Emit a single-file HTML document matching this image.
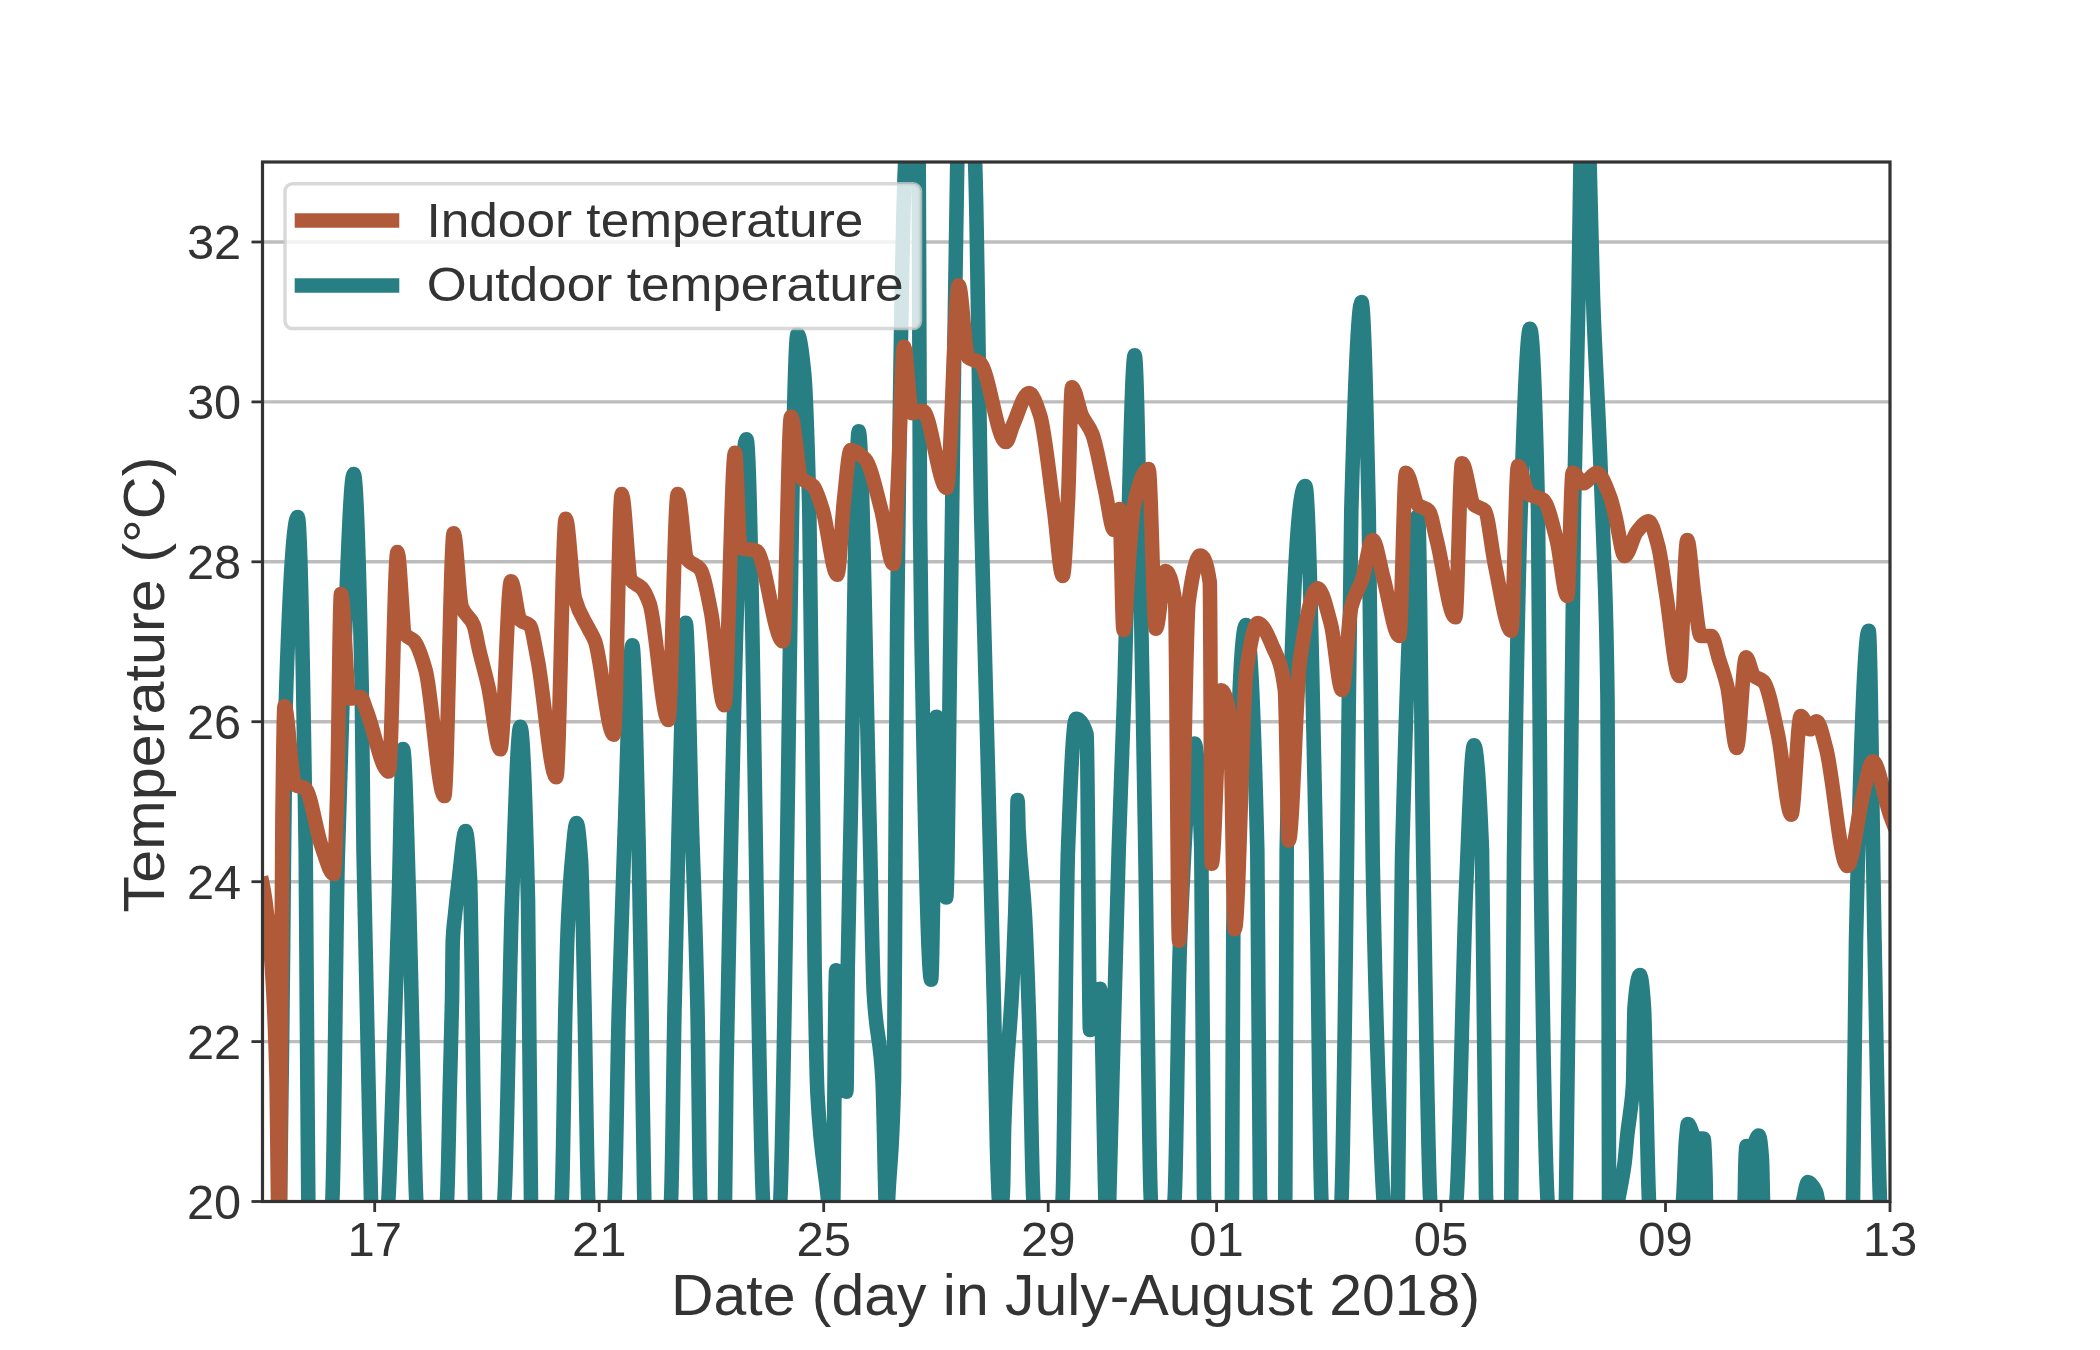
<!DOCTYPE html><html><head><meta charset="utf-8"><style>html,body{margin:0;padding:0;background:#fff;width:2100px;height:1350px;overflow:hidden}svg{display:block}text{font-family:"Liberation Sans",sans-serif;fill:#333333}</style></head><body>
<svg width="2100" height="1350" viewBox="0 0 2100 1350">
<rect width="2100" height="1350" fill="#fff"/>
<defs><clipPath id="ax"><rect x="262.5" y="162.0" width="1627.5" height="1039.5"/></clipPath></defs>
<g stroke="#bdbdbd" stroke-width="3.4"><line x1="262.5" x2="1890.0" y1="1041.6" y2="1041.6"/><line x1="262.5" x2="1890.0" y1="881.7" y2="881.7"/><line x1="262.5" x2="1890.0" y1="721.7" y2="721.7"/><line x1="262.5" x2="1890.0" y1="561.8" y2="561.8"/><line x1="262.5" x2="1890.0" y1="401.9" y2="401.9"/><line x1="262.5" x2="1890.0" y1="242.0" y2="242.0"/></g>
<g clip-path="url(#ax)" fill="none" stroke-width="14.6" stroke-linejoin="round" stroke-linecap="square">
<path d="M262.0 1500.0C266.7 1471.3 271.3 1389.0 276.0 1300.0C277.3 1274.6 278.7 1252.8 280.0 1201.0C281.0 1162.2 282.0 1046.9 283.0 960.0C283.9 881.8 284.8 733.5 285.7 705.0C289.7 578.4 293.7 517.0 297.7 517.0C300.4 517.0 303.0 663.6 305.7 850.0C306.6 910.6 307.4 1171.2 308.3 1201.0C310.8 1288.6 313.4 1330.0 315.9 1330.0C321.4 1330.0 326.8 1288.9 332.3 1201.0C334.1 1172.0 335.9 937.5 337.7 860.0C339.5 784.0 341.2 731.6 343.0 686.7C346.6 596.0 350.1 474.0 353.7 474.0C356.4 474.0 359.0 562.7 361.7 686.7C362.3 714.6 362.9 810.4 363.5 850.0C366.0 1015.1 368.5 1131.5 371.0 1201.0C373.1 1260.6 375.3 1330.0 377.4 1330.0C381.1 1330.0 384.7 1263.0 388.3 1201.0C390.6 1161.6 392.9 1077.9 395.2 1010.0C396.3 976.5 397.5 941.4 398.6 904.0C400.1 855.6 401.5 749.0 403.0 749.0C405.1 749.0 407.1 837.8 409.2 904.0C410.1 931.8 410.9 974.0 411.8 1010.0C413.3 1072.3 414.8 1176.6 416.3 1201.0C421.3 1282.1 426.3 1330.0 431.3 1330.0C436.5 1330.0 441.8 1285.1 447.0 1201.0C448.0 1185.0 449.0 1120.2 450.0 1080.0C450.7 1053.2 451.3 1036.4 452.0 1000.0C452.3 985.5 452.5 945.9 452.8 940.0C453.5 923.7 454.3 922.6 455.0 915.0C456.3 901.3 457.7 888.8 459.0 878.0C461.2 860.1 463.4 831.0 465.6 831.0C467.1 831.0 468.5 849.6 470.0 878.0C470.7 892.2 471.5 954.3 472.2 1000.0C473.1 1058.1 474.1 1178.1 475.0 1201.0C478.4 1285.6 481.9 1330.0 485.3 1330.0C491.7 1330.0 498.0 1282.3 504.3 1201.0C506.9 1168.0 509.4 970.1 512.0 900.0C514.8 824.4 517.5 726.7 520.3 726.7C522.9 726.7 525.4 796.0 528.0 900.0C529.0 940.5 530.0 1175.3 531.0 1201.0C534.5 1290.4 537.9 1330.0 541.4 1330.0C548.2 1330.0 554.9 1293.9 561.7 1201.0C563.0 1183.1 564.3 1050.9 565.6 1000.0C566.4 968.7 567.2 939.3 568.0 922.0C569.3 893.2 570.7 874.4 572.0 860.0C573.5 843.8 575.0 823.0 576.5 823.0C578.0 823.0 579.5 838.8 581.0 860.0C582.1 876.0 583.3 948.2 584.4 1000.0C585.7 1059.4 587.0 1175.5 588.3 1201.0C592.4 1281.7 596.5 1330.0 600.6 1330.0C605.3 1330.0 609.9 1282.1 614.6 1201.0C616.0 1176.6 617.4 1061.4 618.8 1010.0C620.6 942.6 622.5 893.3 624.3 843.0C627.0 769.9 629.6 645.3 632.3 645.3C634.4 645.3 636.5 754.5 638.6 843.0C639.6 883.7 640.5 949.6 641.5 1010.0C642.4 1068.3 643.4 1180.4 644.3 1201.0C648.3 1288.2 652.2 1330.0 656.2 1330.0C661.1 1330.0 666.1 1288.2 671.0 1201.0C672.2 1180.4 673.3 1066.9 674.5 1010.0C675.9 940.2 677.4 872.7 678.8 822.0C681.1 740.7 683.4 622.7 685.7 622.7C687.7 622.7 689.8 755.2 691.8 822.0C693.7 884.4 695.6 922.0 697.5 1010.0C698.4 1053.2 699.4 1182.6 700.3 1201.0C704.9 1292.0 709.5 1330.0 714.2 1330.0C717.8 1330.0 721.4 1294.6 725.0 1201.0C725.5 1188.0 726.0 1096.8 726.5 1070.0C733.2 713.0 739.8 439.3 746.5 439.3C752.0 439.3 757.5 1086.9 763.0 1201.0C766.0 1263.5 769.0 1330.0 772.0 1330.0C774.8 1330.0 777.5 1262.9 780.3 1201.0C786.0 1072.3 791.8 334.0 797.5 334.0C799.7 334.0 801.8 350.5 804.0 371.3C805.8 388.3 807.5 438.0 809.3 510.0C810.6 561.7 811.8 706.7 813.1 820.0C813.6 864.7 814.1 932.7 814.6 964.5C815.6 1026.1 816.5 1076.7 817.5 1094.6C820.9 1157.0 824.2 1162.0 827.6 1195.7C829.3 1212.9 831.0 1247.3 832.8 1247.3C833.0 1247.3 833.2 1212.9 833.4 1195.7C834.3 1120.6 835.3 970.3 836.2 970.3C839.6 970.3 843.0 1091.7 846.4 1091.7C846.9 1091.7 847.3 995.6 847.8 964.5C848.8 900.1 849.7 867.7 850.7 820.0C853.4 688.5 856.0 431.3 858.7 431.3C862.3 431.3 865.9 681.9 869.5 820.0C870.9 875.0 872.4 968.8 873.8 993.4C876.7 1043.1 879.6 1028.7 882.5 1080.0C883.5 1097.1 884.4 1157.1 885.4 1195.7C885.7 1208.7 886.1 1234.7 886.4 1234.7C887.0 1234.7 887.7 1208.7 888.3 1195.7C890.2 1157.1 892.1 1160.1 894.0 1080.0C894.5 1058.9 895.0 922.1 895.5 849.0C896.0 775.9 896.5 685.2 897.0 640.0C899.8 390.0 902.5 212.2 905.3 160.0C909.0 90.3 912.7 40.0 916.4 40.0C917.2 40.0 917.9 88.0 918.7 160.0C919.1 200.4 919.6 465.5 920.0 520.0C920.5 582.9 921.0 612.9 921.5 640.0C924.7 813.3 927.9 979.7 931.1 979.7C932.9 979.7 934.8 716.7 936.6 716.7C939.8 716.7 943.0 897.5 946.2 897.5C947.6 897.5 948.9 731.6 950.3 640.0C950.9 602.0 951.4 559.4 952.0 520.0C953.8 397.3 955.5 205.0 957.3 160.0C960.0 91.3 962.7 40.0 965.4 40.0C968.6 40.0 971.8 91.3 975.0 160.0C977.1 205.0 979.2 427.0 981.3 520.0C982.4 567.2 983.4 599.5 984.5 640.0C987.7 761.4 990.9 870.0 994.1 1010.0C995.1 1052.3 996.0 1118.3 997.0 1150.0C997.7 1171.8 998.3 1192.1 999.0 1201.0C999.5 1207.7 1000.0 1215.0 1000.5 1215.0C1001.3 1215.0 1002.2 1205.3 1003.0 1190.0C1003.4 1182.7 1003.8 1137.5 1004.2 1125.4C1007.0 1040.0 1009.9 1042.1 1012.7 977.7C1014.1 945.9 1015.5 917.3 1016.9 851.0C1017.1 840.0 1017.4 800.0 1017.6 800.0C1017.9 800.0 1018.3 823.2 1018.6 830.0C1020.7 872.7 1022.8 876.6 1024.9 914.0C1026.3 938.9 1027.7 975.9 1029.1 1020.0C1030.5 1065.2 1032.0 1180.3 1033.4 1201.0C1039.3 1286.7 1045.3 1330.0 1051.2 1330.0C1055.0 1330.0 1058.9 1279.3 1062.7 1196.7C1064.5 1158.7 1066.2 898.3 1068.0 850.0C1070.7 777.1 1073.3 718.7 1076.0 718.7C1079.6 718.7 1083.1 722.1 1086.7 734.7C1087.8 738.6 1088.9 1030.0 1090.0 1030.0C1093.3 1030.0 1096.7 988.7 1100.0 988.7C1101.8 988.7 1103.5 1127.4 1105.3 1196.7C1105.9 1222.1 1106.6 1272.8 1107.2 1272.8C1107.9 1272.8 1108.6 1222.1 1109.3 1196.7C1112.4 1081.1 1115.6 949.1 1118.7 850.0C1120.5 794.1 1122.2 752.8 1124.0 700.0C1127.6 593.3 1131.1 355.3 1134.7 355.3C1137.4 355.3 1140.0 565.1 1142.7 700.0C1143.6 743.8 1144.4 797.7 1145.3 850.0C1147.1 958.7 1148.9 1154.9 1150.7 1196.7C1154.1 1276.0 1157.5 1330.0 1161.0 1330.0C1165.5 1330.0 1170.1 1278.6 1174.7 1196.7C1176.5 1165.1 1178.2 984.3 1180.0 943.0C1184.8 830.0 1189.7 743.5 1194.5 743.5C1196.8 743.5 1199.0 778.7 1201.3 850.0C1202.2 878.3 1203.1 1180.0 1204.0 1196.7C1209.7 1303.5 1215.5 1330.0 1221.2 1330.0C1224.8 1330.0 1228.4 1305.8 1232.0 1196.7C1232.4 1183.5 1232.9 953.7 1233.3 930.0C1237.5 698.3 1241.8 625.0 1246.0 625.0C1249.8 625.0 1253.5 697.3 1257.3 850.0C1258.2 886.5 1259.1 1179.5 1260.0 1196.7C1265.6 1302.9 1271.1 1330.0 1276.7 1330.0C1279.5 1330.0 1282.4 1302.9 1285.3 1196.7C1285.8 1179.5 1286.2 872.4 1286.7 850.0C1292.9 552.3 1299.1 486.0 1305.3 486.0C1308.9 486.0 1312.4 684.5 1316.0 850.0C1317.8 932.0 1319.5 1154.3 1321.3 1196.7C1324.6 1275.6 1327.9 1330.0 1331.2 1330.0C1334.6 1330.0 1338.1 1277.8 1341.5 1201.0C1343.3 1160.1 1345.2 989.8 1347.0 860.0C1348.4 758.6 1349.9 560.9 1351.3 510.0C1354.7 389.3 1358.1 302.0 1361.5 302.0C1363.9 302.0 1366.3 400.5 1368.7 510.0C1370.0 570.8 1371.4 786.3 1372.7 860.0C1374.5 957.7 1376.2 1015.8 1378.0 1068.7C1379.8 1121.6 1381.5 1167.7 1383.3 1196.7C1387.1 1259.3 1390.9 1330.0 1394.7 1330.0C1395.8 1330.0 1396.9 1255.9 1398.0 1196.7C1399.3 1124.4 1400.7 911.8 1402.0 860.0C1407.3 652.7 1412.7 516.0 1418.0 516.0C1419.8 516.0 1421.5 759.4 1423.3 860.0C1425.5 987.1 1427.8 1149.6 1430.0 1196.7C1433.5 1271.1 1437.1 1330.0 1440.6 1330.0C1446.0 1330.0 1451.3 1271.8 1456.7 1196.7C1459.8 1153.4 1462.9 961.9 1466.0 890.0C1468.7 828.2 1471.3 745.3 1474.0 745.3C1476.7 745.3 1479.3 783.9 1482.0 850.0C1483.3 883.0 1484.7 1171.1 1486.0 1196.7C1491.0 1292.2 1496.0 1330.0 1500.9 1330.0C1504.4 1330.0 1507.8 1292.5 1511.3 1196.7C1512.2 1171.8 1513.1 930.4 1514.0 860.0C1516.2 685.4 1518.5 575.0 1520.7 510.0C1523.8 419.7 1526.9 328.7 1530.0 328.7C1532.7 328.7 1535.3 393.6 1538.0 510.0C1538.9 549.3 1539.8 789.8 1540.7 860.0C1542.9 1031.5 1545.1 1153.0 1547.3 1196.7C1551.2 1273.8 1555.1 1330.0 1558.9 1330.0C1561.3 1330.0 1563.6 1273.8 1566.0 1196.7C1567.3 1153.0 1568.7 974.4 1570.0 860.0C1571.3 745.6 1572.7 592.4 1574.0 510.0C1575.5 417.3 1577.0 383.0 1578.5 297.0C1579.2 258.8 1579.8 187.1 1580.5 160.0C1582.0 99.0 1583.5 40.0 1585.0 40.0C1586.5 40.0 1588.0 112.0 1589.5 160.0C1590.7 197.3 1591.8 263.2 1593.0 297.0C1595.0 355.0 1597.0 382.6 1599.0 430.0C1600.7 469.5 1602.3 504.1 1604.0 557.0C1605.2 594.1 1606.3 606.2 1607.5 700.0C1607.8 726.8 1608.2 825.7 1608.5 940.0C1608.7 997.2 1608.8 1114.0 1609.0 1201.0C1609.0 1218.3 1609.1 1252.8 1609.1 1252.8C1612.1 1252.8 1615.0 1218.3 1618.0 1201.0C1620.2 1188.0 1622.5 1179.3 1624.7 1162.0C1625.6 1154.8 1626.6 1141.2 1627.5 1133.0C1628.3 1125.7 1629.2 1121.1 1630.0 1114.0C1631.0 1105.5 1632.0 1102.6 1633.0 1085.0C1633.5 1076.2 1634.0 1014.3 1634.5 1008.0C1636.3 984.8 1638.2 975.0 1640.0 975.0C1641.3 975.0 1642.7 988.5 1644.0 1008.0C1644.7 1017.8 1645.3 1059.3 1646.0 1085.0C1647.0 1123.6 1648.0 1181.7 1649.0 1201.0C1652.9 1276.2 1656.8 1330.0 1660.7 1330.0C1668.1 1330.0 1675.6 1279.0 1683.0 1201.0C1684.0 1190.5 1685.0 1151.2 1686.0 1140.0C1686.7 1132.6 1687.3 1124.0 1688.0 1124.0C1690.3 1124.0 1692.7 1137.7 1695.0 1138.0C1697.9 1138.4 1700.7 1138.1 1703.6 1138.6C1704.2 1138.7 1704.9 1155.5 1705.5 1175.0C1705.7 1180.1 1705.8 1198.2 1706.0 1201.0C1712.0 1300.3 1718.0 1330.0 1724.0 1330.0C1730.9 1330.0 1737.7 1299.4 1744.6 1201.0C1744.9 1196.7 1745.2 1166.5 1745.5 1160.0C1745.8 1152.8 1746.2 1146.0 1746.5 1146.0C1748.3 1146.0 1750.2 1147.0 1752.0 1147.0C1754.2 1147.0 1756.5 1135.5 1758.7 1135.5C1759.8 1135.5 1760.9 1144.2 1762.0 1160.0C1762.3 1164.8 1762.7 1187.8 1763.0 1201.0C1764.1 1245.9 1765.3 1330.0 1766.4 1330.0C1778.6 1330.0 1790.8 1246.1 1803.0 1201.0C1804.7 1194.8 1806.3 1182.0 1808.0 1182.0C1810.7 1182.0 1813.3 1186.1 1816.0 1192.0C1816.7 1193.5 1817.3 1198.2 1818.0 1201.0C1829.1 1248.2 1840.2 1330.0 1851.3 1330.0C1851.9 1330.0 1852.4 1246.9 1853.0 1201.0C1854.0 1121.0 1855.0 983.0 1856.0 940.0C1860.2 757.8 1864.5 630.7 1868.7 630.7C1870.6 630.7 1872.6 843.0 1874.5 940.0C1876.3 1032.0 1878.2 1157.2 1880.0 1201.0C1883.3 1280.6 1886.7 1350.0 1890.0 1350.0" stroke="#277f83"/>
<path d="M1695.0 1150.0 L1695.0 1215.0" stroke="#277f83"/>
<path d="M1753.0 1155.0 L1754.0 1215.0" stroke="#277f83"/>
<path d="M262.5 884.0C263.5 888.7 264.5 894.8 265.5 902.0C267.3 915.3 269.2 930.4 271.0 955.0C272.9 980.1 274.7 1004.9 276.6 1080.0C277.1 1098.8 277.5 1176.4 278.0 1201.0C278.3 1218.5 278.7 1240.0 279.0 1240.0C279.3 1240.0 279.7 1220.3 280.0 1201.0C280.8 1154.8 281.6 883.9 282.4 820.0C283.1 764.1 283.8 706.3 284.5 706.3C288.0 706.3 291.5 783.0 295.0 785.0C298.3 786.9 301.7 786.3 305.0 788.0C310.6 790.9 316.1 831.5 321.7 846.7C325.7 857.6 329.7 874.0 333.7 874.0C334.8 874.0 335.9 833.9 337.0 800.0C338.3 758.9 339.7 594.0 341.0 594.0C343.8 594.0 346.7 698.5 349.5 698.5C353.2 698.5 356.8 697.0 360.5 697.0C362.4 697.0 364.4 705.2 366.3 709.9C373.8 727.9 381.3 771.5 388.8 771.5C391.7 771.5 394.5 552.0 397.4 552.0C399.9 552.0 402.5 630.2 405.0 634.0C408.1 638.7 411.2 637.6 414.3 641.3C418.1 645.8 421.9 657.0 425.7 670.7C431.9 693.0 438.1 796.0 444.3 796.0C447.4 796.0 450.6 533.3 453.7 533.3C456.4 533.3 459.0 599.3 461.7 606.7C465.7 617.8 469.7 615.4 473.7 625.3C475.5 629.7 477.2 641.7 479.0 649.3C482.1 662.6 485.2 672.7 488.3 686.7C492.3 704.8 496.3 749.3 500.3 749.3C503.9 749.3 507.4 581.3 511.0 581.3C514.1 581.3 517.2 616.9 520.3 620.0C523.4 623.1 526.6 622.1 529.7 625.3C532.4 628.0 535.0 646.6 537.7 660.0C543.9 691.1 550.1 777.3 556.3 777.3C559.4 777.3 562.6 518.7 565.7 518.7C568.8 518.7 571.9 587.4 575.0 598.7C579.4 614.8 583.9 618.8 588.3 628.0C590.5 632.6 592.8 635.4 595.0 641.3C601.2 657.9 607.5 734.7 613.7 734.7C616.4 734.7 619.0 494.0 621.7 494.0C624.8 494.0 627.9 575.6 631.0 580.0C634.6 585.0 638.1 584.0 641.7 588.0C644.4 591.0 647.0 596.4 649.7 604.0C655.9 621.6 662.1 720.0 668.3 720.0C671.4 720.0 674.6 494.0 677.7 494.0C680.8 494.0 683.9 554.0 687.0 558.7C691.4 565.4 695.9 563.3 700.3 569.3C703.9 574.2 707.4 594.0 711.0 612.0C715.4 634.3 719.9 705.3 724.3 705.3C727.9 705.3 731.4 452.7 735.0 452.7C736.8 452.7 738.5 547.3 740.3 548.0C745.6 550.1 751.0 549.1 756.3 550.7C765.2 553.4 774.1 641.3 783.0 641.3C785.7 641.3 788.3 416.7 791.0 416.7C794.4 416.7 797.9 473.8 801.3 478.0C805.3 482.9 809.3 481.7 813.3 486.0C816.4 489.4 819.6 500.0 822.7 510.0C827.6 525.5 832.4 574.7 837.3 574.7C839.5 574.7 841.8 520.0 844.0 500.0C846.2 480.0 848.5 450.0 850.7 450.0C855.6 450.0 860.4 454.2 865.3 459.3C870.6 464.9 876.0 490.0 881.3 510.0C885.3 525.0 889.3 564.0 893.3 564.0C894.9 564.0 896.4 510.9 898.0 480.0C900.0 440.6 902.0 346.7 904.0 346.7C906.7 346.7 909.3 413.3 912.0 413.3C915.6 413.3 919.1 410.7 922.7 410.7C930.7 410.7 938.7 488.0 946.7 488.0C950.7 488.0 954.7 285.3 958.7 285.3C961.8 285.3 964.9 354.6 968.0 357.3C972.0 360.8 976.0 359.8 980.0 362.7C988.7 368.9 997.3 442.0 1006.0 442.0C1008.3 442.0 1010.7 430.2 1013.0 425.0C1018.3 413.2 1023.7 393.0 1029.0 393.0C1032.7 393.0 1036.3 403.9 1040.0 415.0C1044.7 429.1 1049.3 476.4 1054.0 510.0C1056.9 530.9 1059.8 576.0 1062.7 576.0C1064.5 576.0 1066.2 534.1 1068.0 500.0C1069.3 474.3 1070.7 387.3 1072.0 387.3C1075.3 387.3 1078.6 408.4 1081.9 415.6C1085.3 423.1 1088.8 425.2 1092.2 433.7C1096.5 444.4 1100.9 471.5 1105.2 490.7C1108.1 503.7 1111.1 530.0 1114.0 530.0C1115.8 530.0 1117.6 509.0 1119.4 509.0C1120.8 509.0 1122.1 630.0 1123.5 630.0C1125.7 630.0 1127.8 569.3 1130.0 545.0C1131.3 530.0 1132.7 511.0 1134.0 505.0C1138.8 483.3 1143.7 469.0 1148.5 469.0C1151.0 469.0 1153.4 628.8 1155.9 628.8C1159.1 628.8 1162.3 571.0 1165.5 571.0C1168.7 571.0 1171.9 579.0 1175.1 601.8C1176.4 611.1 1177.7 940.8 1179.0 940.8C1182.2 940.8 1185.4 625.3 1188.6 601.8C1192.5 573.4 1196.3 555.6 1200.2 555.6C1203.4 555.6 1206.6 560.1 1209.8 582.5C1210.4 586.9 1211.1 863.7 1211.7 863.7C1214.9 863.7 1218.1 690.4 1221.3 690.4C1224.2 690.4 1227.1 698.9 1230.0 717.0C1231.6 727.0 1233.2 929.2 1234.8 929.2C1238.7 929.2 1242.5 698.2 1246.4 671.0C1250.2 644.1 1254.1 623.0 1257.9 623.0C1263.0 623.0 1268.2 636.2 1273.3 648.0C1277.2 656.9 1281.0 660.5 1284.9 690.4C1286.2 700.5 1287.5 840.6 1288.8 840.6C1292.5 840.6 1296.3 685.4 1300.0 660.0C1305.9 620.1 1311.7 588.3 1317.6 588.3C1322.1 588.3 1326.6 608.0 1331.1 625.0C1334.7 638.8 1338.4 690.0 1342.0 690.0C1345.1 690.0 1348.2 619.0 1351.3 606.7C1354.9 592.6 1358.4 590.7 1362.0 580.0C1365.6 569.3 1369.1 540.0 1372.7 540.0C1376.2 540.0 1379.8 564.6 1383.3 577.3C1388.6 596.4 1394.0 636.0 1399.3 636.0C1401.5 636.0 1403.8 472.7 1406.0 472.7C1410.0 472.7 1414.0 501.5 1418.0 505.0C1421.6 508.1 1425.1 507.3 1428.7 510.7C1431.4 513.3 1434.0 529.7 1436.7 540.0C1442.9 563.9 1449.1 617.3 1455.3 617.3C1457.5 617.3 1459.8 463.3 1462.0 463.3C1466.0 463.3 1470.0 500.9 1474.0 504.7C1477.6 508.1 1481.1 507.1 1484.7 510.7C1488.2 514.3 1491.8 550.5 1495.3 566.7C1500.6 591.2 1506.0 630.7 1511.3 630.7C1513.5 630.7 1515.8 466.0 1518.0 466.0C1521.6 466.0 1525.1 491.4 1528.7 494.0C1533.6 497.6 1538.4 496.4 1543.3 500.0C1547.8 503.3 1552.2 522.8 1556.7 540.0C1560.2 553.6 1563.8 596.0 1567.3 596.0C1569.1 596.0 1570.9 472.7 1572.7 472.7C1576.2 472.7 1579.8 483.3 1583.3 483.3C1587.8 483.3 1592.2 472.7 1596.7 472.7C1601.1 472.7 1605.6 485.5 1610.0 496.7C1611.8 501.2 1613.5 509.1 1615.3 516.0C1618.4 528.2 1621.6 556.0 1624.7 556.0C1628.7 556.0 1632.7 536.9 1636.7 532.0C1640.7 527.1 1644.7 521.3 1648.7 521.3C1651.8 521.3 1654.9 534.0 1658.0 545.3C1660.7 555.0 1663.3 577.0 1666.0 593.3C1670.4 620.3 1674.9 676.0 1679.3 676.0C1682.0 676.0 1684.6 540.0 1687.3 540.0C1689.5 540.0 1691.8 577.5 1694.0 593.3C1696.2 609.1 1698.5 636.0 1700.7 636.0C1704.2 636.0 1707.8 636.0 1711.3 636.0C1714.0 636.0 1716.6 651.6 1719.3 660.0C1722.0 668.4 1724.6 675.0 1727.3 686.7C1730.4 700.4 1733.6 748.0 1736.7 748.0C1739.8 748.0 1742.9 657.3 1746.0 657.3C1748.7 657.3 1751.3 673.5 1754.0 676.0C1757.1 678.9 1760.2 678.4 1763.3 681.3C1768.2 685.9 1773.1 712.4 1778.0 734.7C1782.4 754.9 1786.9 814.7 1791.3 814.7C1794.4 814.7 1797.6 716.0 1800.7 716.0C1803.8 716.0 1806.9 729.3 1810.0 729.3C1812.2 729.3 1814.5 721.3 1816.7 721.3C1819.8 721.3 1822.9 736.7 1826.0 748.0C1833.1 773.8 1840.2 866.0 1847.3 866.0C1852.6 866.0 1858.0 813.8 1863.3 793.3C1866.4 781.3 1869.6 761.3 1872.7 761.3C1878.5 761.3 1884.2 798.8 1890.0 814.7C1893.3 823.9 1896.7 832.2 1900.0 840.0" stroke="#b15a3a"/>
</g>
<rect x="262.5" y="162.0" width="1627.5" height="1039.5" fill="none" stroke="#333333" stroke-width="3.2"/>
<g stroke="#333333" stroke-width="2.8"><line x1="251.5" x2="261.5" y1="1201.5" y2="1201.5"/><line x1="251.5" x2="261.5" y1="1041.6" y2="1041.6"/><line x1="251.5" x2="261.5" y1="881.7" y2="881.7"/><line x1="251.5" x2="261.5" y1="721.7" y2="721.7"/><line x1="251.5" x2="261.5" y1="561.8" y2="561.8"/><line x1="251.5" x2="261.5" y1="401.9" y2="401.9"/><line x1="251.5" x2="261.5" y1="242.0" y2="242.0"/><line x1="374.7" x2="374.7" y1="1201.5" y2="1212.0"/><line x1="599.2" x2="599.2" y1="1201.5" y2="1212.0"/><line x1="823.7" x2="823.7" y1="1201.5" y2="1212.0"/><line x1="1048.2" x2="1048.2" y1="1201.5" y2="1212.0"/><line x1="1216.6" x2="1216.6" y1="1201.5" y2="1212.0"/><line x1="1441.0" x2="1441.0" y1="1201.5" y2="1212.0"/><line x1="1665.5" x2="1665.5" y1="1201.5" y2="1212.0"/><line x1="1890.0" x2="1890.0" y1="1201.5" y2="1212.0"/></g>
<text x="241.2" y="1218.9" text-anchor="end" font-size="48.6" textLength="54.3" lengthAdjust="spacingAndGlyphs">20</text><text x="241.2" y="1059.0" text-anchor="end" font-size="48.6" textLength="54.3" lengthAdjust="spacingAndGlyphs">22</text><text x="241.2" y="899.1" text-anchor="end" font-size="48.6" textLength="54.3" lengthAdjust="spacingAndGlyphs">24</text><text x="241.2" y="739.1" text-anchor="end" font-size="48.6" textLength="54.3" lengthAdjust="spacingAndGlyphs">26</text><text x="241.2" y="579.2" text-anchor="end" font-size="48.6" textLength="54.3" lengthAdjust="spacingAndGlyphs">28</text><text x="241.2" y="419.3" text-anchor="end" font-size="48.6" textLength="54.3" lengthAdjust="spacingAndGlyphs">30</text><text x="241.2" y="259.4" text-anchor="end" font-size="48.6" textLength="54.3" lengthAdjust="spacingAndGlyphs">32</text><text x="374.7" y="1255.5" text-anchor="middle" font-size="48.6" textLength="54.5" lengthAdjust="spacingAndGlyphs">17</text><text x="599.2" y="1255.5" text-anchor="middle" font-size="48.6" textLength="54.5" lengthAdjust="spacingAndGlyphs">21</text><text x="823.7" y="1255.5" text-anchor="middle" font-size="48.6" textLength="54.5" lengthAdjust="spacingAndGlyphs">25</text><text x="1048.2" y="1255.5" text-anchor="middle" font-size="48.6" textLength="54.5" lengthAdjust="spacingAndGlyphs">29</text><text x="1216.6" y="1255.5" text-anchor="middle" font-size="48.6" textLength="54.5" lengthAdjust="spacingAndGlyphs">01</text><text x="1441.0" y="1255.5" text-anchor="middle" font-size="48.6" textLength="54.5" lengthAdjust="spacingAndGlyphs">05</text><text x="1665.5" y="1255.5" text-anchor="middle" font-size="48.6" textLength="54.5" lengthAdjust="spacingAndGlyphs">09</text><text x="1890.0" y="1255.5" text-anchor="middle" font-size="48.6" textLength="54.5" lengthAdjust="spacingAndGlyphs">13</text>
<text x="671" y="1315.2" font-size="56.5" textLength="809" lengthAdjust="spacingAndGlyphs">Date (day in July-August 2018)</text>
<text transform="translate(164.1 912.5) rotate(-90)" x="0" y="0" font-size="56.5" textLength="456" lengthAdjust="spacingAndGlyphs">Temperature (°C)</text>
<rect x="285" y="183.8" width="635.5" height="144.8" rx="7.5" ry="7.5" fill="#ffffff" fill-opacity="0.8" stroke="#cccccc" stroke-opacity="0.75" stroke-width="3.5"/>
<line x1="302" x2="392" y1="220.5" y2="220.5" stroke="#b15a3a" stroke-width="14.6" stroke-linecap="square"/>
<line x1="302" x2="392" y1="285.5" y2="285.5" stroke="#277f83" stroke-width="14.6" stroke-linecap="square"/>
<text x="426.4" y="237" font-size="48.6" textLength="437" lengthAdjust="spacingAndGlyphs">Indoor temperature</text>
<text x="426.7" y="301.3" font-size="48.6" textLength="477" lengthAdjust="spacingAndGlyphs">Outdoor temperature</text>
</svg></body></html>
